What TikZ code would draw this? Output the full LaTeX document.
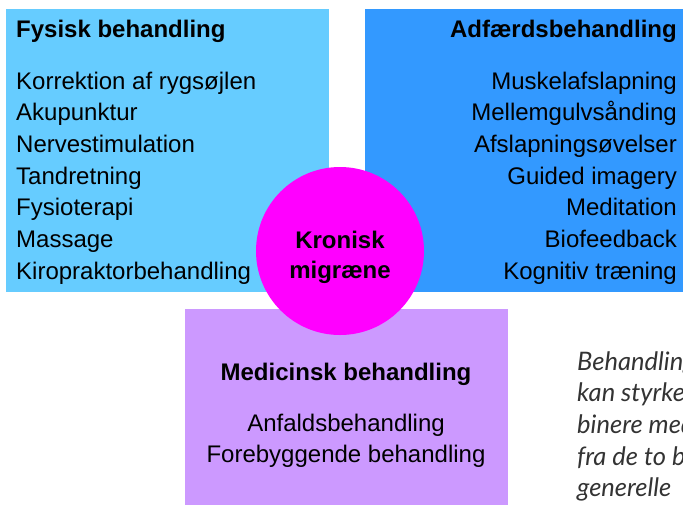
\documentclass[tikz,border=0pt]{standalone}
\usepackage{fontspec}
\setmainfont{Liberation Sans}
\newfontfamily\notefont{Lato}
\definecolor{fysiskcol}{RGB}{102, 204, 255}
\definecolor{adfaerdcol}{RGB}{51, 153, 255}
\definecolor{medicincol}{RGB}{204, 153, 255}
\definecolor{migraenecol}{RGB}{255, 0, 255}

\begin{document}
\begin{tikzpicture}[x=1pt, y=-1pt,
	item/.style={inner sep=0pt, font=\fontsize{24}{28}\selectfont},
	head/.style={inner sep=0pt, font=\fontsize{24}{28}\selectfont\bfseries},
	note/.style={inner sep=0pt, anchor=base west, font=\fontsize{25.5}{28}\selectfont\notefont\itshape, text=black!80}]
	\useasboundingbox (0,0) rectangle (683,504);
	\clip (0,0) rectangle (683,504);
	% three boxes
	\fill[fysiskcol] (6,9) rectangle (329,292);
	\fill[adfaerdcol] (365,9) rectangle (690,292);
	\fill[medicincol] (185,309) rectangle (508,510);
	% left box
	\node[head, anchor=base west] (fysisk) at (16,37) {Fysisk behandling};
	\node[item, anchor=base west] (f1) at (16,89) {Korrektion af rygsøjlen};
	\node[item, anchor=base west] (f2) at (16,120.7) {Akupunktur};
	\node[item, anchor=base west] (f3) at (16,152.4) {Nervestimulation};
	\node[item, anchor=base west] (f4) at (16,184.1) {Tandretning};
	\node[item, anchor=base west] (f5) at (16,215.8) {Fysioterapi};
	\node[item, anchor=base west] (f6) at (16,247.5) {Massage};
	\node[item, anchor=base west] (f7) at (16,279.2) {Kiropraktorbehandling};
	% right box
	\node[head, anchor=base east] (adfaerd) at (677,37) {Adfærdsbehandling};
	\node[item, anchor=base east] (a1) at (677,89) {Muskelafslapning};
	\node[item, anchor=base east] (a2) at (677,120.7) {Mellemgulvsånding};
	\node[item, anchor=base east] (a3) at (677,152.4) {Afslapningsøvelser};
	\node[item, anchor=base east] (a4) at (677,184.1) {Guided imagery};
	\node[item, anchor=base east] (a5) at (677,215.8) {Meditation};
	\node[item, anchor=base east] (a6) at (677,247.5) {Biofeedback};
	\node[item, anchor=base east] (a7) at (677,279.2) {Kognitiv træning};
	% bottom box
	\node[head, anchor=base] (medicin) at (346,380) {Medicinsk behandling};
	\node[item, anchor=base] (m1) at (346,431) {Anfaldsbehandling};
	\node[item, anchor=base] (m2) at (346,462.7) {Forebyggende behandling};
	% centre
	\node[circle, fill=migraenecol, minimum size=168pt, inner sep=0pt] (migraene) at (340,251) {};
	\node[head, anchor=base] (kronisk) at (340,248) {Kronisk};
	\node[head, anchor=base] (migr) at (340,278) {migræne};
	% side note, cut by the edge
	\node[note] (n1) at (577,370) {Behandling};
	\node[note] (n2) at (577,401.7) {kan styrke};
	\node[note] (n3) at (577,433.4) {binere med};
	\node[note] (n4) at (577,465.1) {fra de to b};
	\node[note] (n5) at (577,496.8) {generelle};
\end{tikzpicture}
\end{document}
